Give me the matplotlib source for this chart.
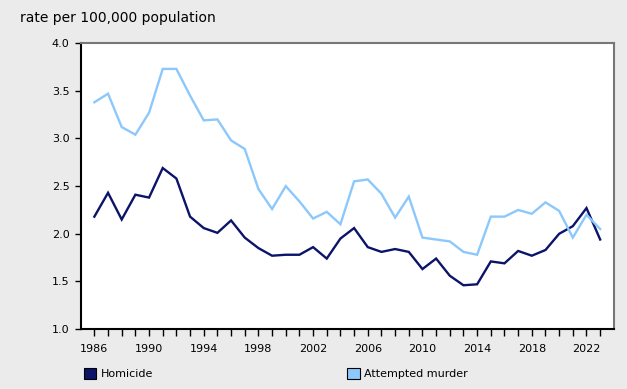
import matplotlib.pyplot as plt
from matplotlib.patches import Patch

years = list(range(1986, 2024))
homicide = [2.18, 2.43, 2.15, 2.41, 2.38, 2.69, 2.58, 2.18, 2.06, 2.01,
            2.14, 1.96, 1.85, 1.77, 1.78, 1.78, 1.86, 1.74, 1.95, 2.06,
            1.86, 1.81, 1.84, 1.81, 1.63, 1.74, 1.56, 1.46, 1.47, 1.71,
            1.69, 1.82, 1.77, 1.83, 2.00, 2.08, 2.27, 1.94]
attempted = [3.38, 3.47, 3.12, 3.04, 3.27, 3.73, 3.73, 3.45, 3.19, 3.20,
             2.98, 2.89, 2.47, 2.26, 2.50, 2.34, 2.16, 2.23, 2.10, 2.55,
             2.57, 2.42, 2.17, 2.39, 1.96, 1.94, 1.92, 1.81, 1.78, 2.18,
             2.18, 2.25, 2.21, 2.33, 2.24, 1.96, 2.20, 2.05]
labels = ["Homicide", "Attempted murder"]
y_ticks = [1.0, 1.5, 2.0, 2.5, 3.0, 3.5, 4.0]

navy = "#0b1468"
light = "#8cc8fc"
bg = "#ebebeb"

fig = plt.figure(figsize=(6.27, 3.89), dpi=100, facecolor=bg)
ax = fig.add_axes([0.1287, 0.154, 0.8503, 0.735])

ax.plot(years, homicide, color=navy, lw=1.7, solid_joinstyle="miter")
ax.plot(years, attempted, color=light, lw=1.7, solid_joinstyle="miter")

ax.set_xlim(1985.0, 2024.0)
ax.set_ylim(1.0, 4.0)
ax.set_yticks(y_ticks)
ax.set_yticklabels([f"{v:.1f}" for v in y_ticks])
ax.set_xticks(years)
ax.set_xticklabels([str(y) if (y - 1986) % 4 == 0 else "" for y in years])
ax.tick_params(axis="both", labelsize=8, color="black", width=1, direction="out")
ax.tick_params(axis="x", length=5, pad=6)
ax.tick_params(axis="y", length=4, pad=4)

for side in ["left", "bottom"]:
    ax.spines[side].set_color("black")
    ax.spines[side].set_linewidth(1.5)
for side in ["top", "right"]:
    ax.spines[side].set_color("#777777")
    ax.spines[side].set_linewidth(1.5)

fig.text(0.032, 0.955, "rate per 100,000 population", fontsize=10, va="center", ha="left")

handles = [Patch(facecolor=navy, edgecolor="black", lw=0.8),
           Patch(facecolor=light, edgecolor="black", lw=0.8)]
fig.legend(handles, labels, ncol=2, loc="center left", bbox_to_anchor=(0.118, 0.04),
           frameon=False, fontsize=8, handlelength=1.1, handleheight=1.1,
           handletextpad=0.4, columnspacing=17.5)

fig.savefig("out.png", dpi=100, facecolor=bg)
